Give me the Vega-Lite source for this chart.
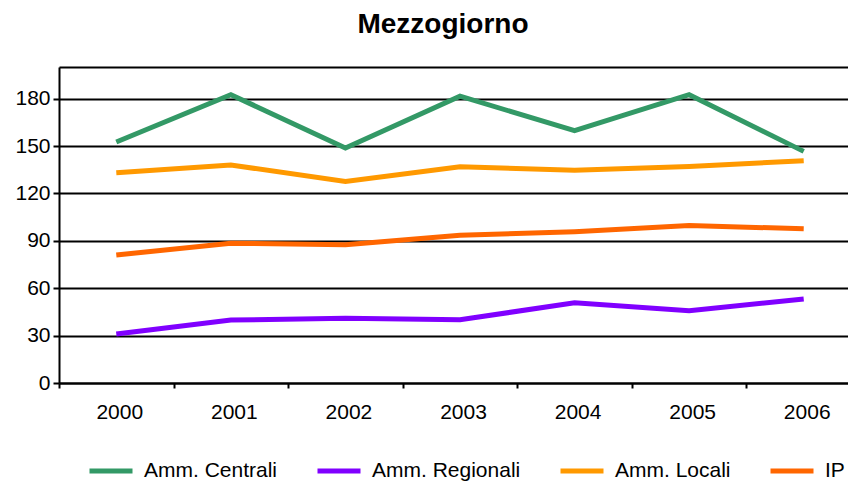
{
  "$schema": "https://vega.github.io/schema/vega-lite/v6.json",
  "width": 802,
  "height": 316,
  "autosize": "none",
  "padding": {"left": 59, "top": 67, "right": 0, "bottom": 99},
  "background": "white",
  "title": {
    "text": "Mezzogiorno",
    "font": "Liberation Sans",
    "fontSize": 28,
    "fontWeight": "bold",
    "color": "black",
    "anchor": "middle",
    "dx": -17,
    "offset": 27
  },
  "config": {
    "view": {"stroke": null},
    "axis": {"labelFont": "Liberation Sans", "labelColor": "black", "titleFont": "Liberation Sans"},
    "legend": {"labelFont": "Liberation Sans"}
  },
  "data": {
    "values": [
      {"year": "2000", "series": "Amm. Centrali", "value": 152.5},
      {"year": "2001", "series": "Amm. Centrali", "value": 182.5},
      {"year": "2002", "series": "Amm. Centrali", "value": 148.7},
      {"year": "2003", "series": "Amm. Centrali", "value": 181.5},
      {"year": "2004", "series": "Amm. Centrali", "value": 159.7},
      {"year": "2005", "series": "Amm. Centrali", "value": 182.5},
      {"year": "2006", "series": "Amm. Centrali", "value": 146.6},
      {"year": "2000", "series": "Amm. Regionali", "value": 31},
      {"year": "2001", "series": "Amm. Regionali", "value": 39.8},
      {"year": "2002", "series": "Amm. Regionali", "value": 41},
      {"year": "2003", "series": "Amm. Regionali", "value": 40},
      {"year": "2004", "series": "Amm. Regionali", "value": 50.8},
      {"year": "2005", "series": "Amm. Regionali", "value": 45.8},
      {"year": "2006", "series": "Amm. Regionali", "value": 53.2},
      {"year": "2000", "series": "Amm. Locali", "value": 133},
      {"year": "2001", "series": "Amm. Locali", "value": 138},
      {"year": "2002", "series": "Amm. Locali", "value": 127.5},
      {"year": "2003", "series": "Amm. Locali", "value": 136.8},
      {"year": "2004", "series": "Amm. Locali", "value": 134.6},
      {"year": "2005", "series": "Amm. Locali", "value": 137.1},
      {"year": "2006", "series": "Amm. Locali", "value": 140.7},
      {"year": "2000", "series": "IP", "value": 81},
      {"year": "2001", "series": "IP", "value": 88.5},
      {"year": "2002", "series": "IP", "value": 87.5},
      {"year": "2003", "series": "IP", "value": 93.5},
      {"year": "2004", "series": "IP", "value": 95.8},
      {"year": "2005", "series": "IP", "value": 99.7},
      {"year": "2006", "series": "IP", "value": 97.6}
    ]
  },
  "mark": {"type": "line", "strokeWidth": 5},
  "encoding": {
    "x": {
      "field": "year",
      "type": "ordinal",
      "bandPosition": 0.5,
      "scale": {"type": "band", "paddingInner": 0, "paddingOuter": 0},
      "axis": {
        "title": null,
        "labelAngle": 0,
        "labelFontSize": 21,
        "labelPadding": 13,
        "labelOffset": 3,
        "tickBand": "extent",
        "ticks": true,
        "tickSize": 5,
        "tickWidth": 2,
        "tickColor": "black",
        "domainColor": "black",
        "domainWidth": 2,
        "grid": false
      }
    },
    "y": {
      "field": "value",
      "type": "quantitative",
      "scale": {"domain": [0, 200], "nice": false, "zero": true},
      "axis": {
        "title": null,
        "values": [0, 30, 60, 90, 120, 150, 180, 200],
        "labelExpr": "datum.value == 200 ? '' : datum.label",
        "labelFontSize": 21,
        "labelPadding": 3,
        "tickSize": 6,
        "tickWidth": 2,
        "tickColor": {"condition": {"test": "datum.value == 200", "value": "transparent"}, "value": "black"},
        "domainColor": "black",
        "domainWidth": 2,
        "grid": true,
        "gridColor": "black",
        "gridWidth": 2,
        "gridOpacity": 1
      }
    },
    "color": {
      "field": "series",
      "type": "nominal",
      "scale": {
        "domain": ["Amm. Centrali", "Amm. Regionali", "Amm. Locali", "IP"],
        "range": ["#339966", "#8000FF", "#FF9900", "#FF6600"]
      },
      "legend": {
        "title": null,
        "orient": "none",
        "direction": "horizontal",
        "legendX": 28,
        "legendY": 380,
        "symbolType": "stroke",
        "symbolSize": 1849,
        "symbolStrokeWidth": 5,
        "labelFontSize": 21,
        "labelColor": "black",
        "labelOffset": 9,
        "columnPadding": 29,
        "labelLimit": 400
      }
    }
  }
}
